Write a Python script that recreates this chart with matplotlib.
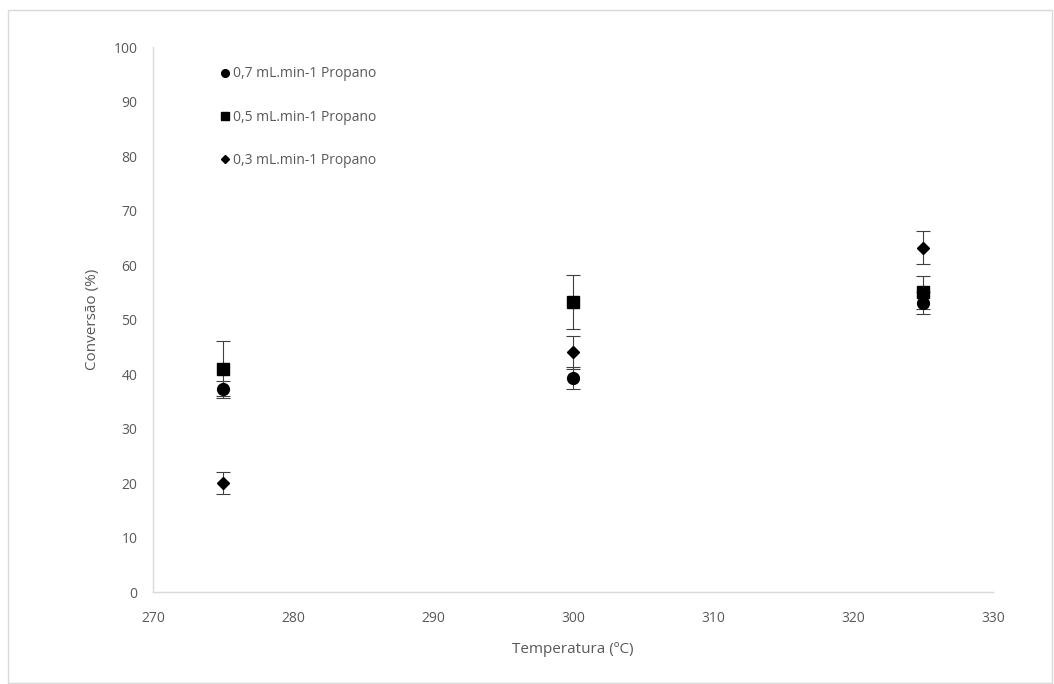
import matplotlib.pyplot as plt
from matplotlib.patches import Rectangle
from matplotlib.lines import Line2D

# temperatures (ºC) and conversion (%) for each propane flow
temperatures = [275, 300, 325]

conv_07 = [37.2, 39.3, 53.0]
err_07 = [1.5, 2.0, 2.0]

conv_05 = [41.0, 53.2, 55.0]
err_05 = [5.0, 5.0, 3.0]

conv_03 = [20.0, 44.0, 63.2]
err_03 = [2.0, 3.0, 3.0]

series = [
    ("0,7 mL.min-1 Propano", conv_07, err_07, "o", 8.5),
    ("0,5 mL.min-1 Propano", conv_05, err_05, "s", 8.0),
    ("0,3 mL.min-1 Propano", conv_03, err_03, "D", 6.5),
]

plt.rcParams["font.family"] = ["Open Sans", "DejaVu Sans"]
text_color = "#595959"

fig = plt.figure(figsize=(10.54, 6.84), dpi=100)
fig.patches.append(Rectangle((0.008, 0.002), 0.99, 0.984, transform=fig.transFigure,
                             fill=False, edgecolor="#d9d9d9", linewidth=1.0))
ax = fig.add_axes([0.145, 0.1345, 0.797, 0.7965])

handles = []
for label, y, e, marker, ms in series:
    ax.errorbar(temperatures, y, yerr=e, fmt=marker, color="black", markersize=ms,
                ecolor="#404040", elinewidth=0.8, capsize=5, capthick=0.8,
                zorder=3)
    handles.append(Line2D([], [], linestyle="none", marker=marker, color="black",
                          markersize=ms * 0.65, label=label))

ax.set_xlim(270, 330)
ax.set_ylim(0, 100)
ax.set_xticks(range(270, 331, 10))
ax.set_yticks(range(0, 101, 10))

for side in ("top", "right"):
    ax.spines[side].set_visible(False)
for side in ("left", "bottom"):
    ax.spines[side].set_color("#d9d9d9")
    ax.spines[side].set_linewidth(1.0)

ax.tick_params(axis="both", length=0, labelsize=10, colors=text_color)
ax.tick_params(axis="x", pad=14)
ax.tick_params(axis="y", pad=11)

ax.set_xlabel("Temperatura (ºC)", fontsize=11, color=text_color, labelpad=11)
ax.set_ylabel("Conversão (%)", fontsize=11, color=text_color, labelpad=10)

leg = ax.legend(handles=handles, loc="upper left", bbox_to_anchor=(0.072, 0.975),
                frameon=False, fontsize=10, labelspacing=2.05, handletextpad=0.1,
                handlelength=0.9, borderaxespad=0)
for t in leg.get_texts():
    t.set_color(text_color)

fig.savefig("out.png", dpi=100)
